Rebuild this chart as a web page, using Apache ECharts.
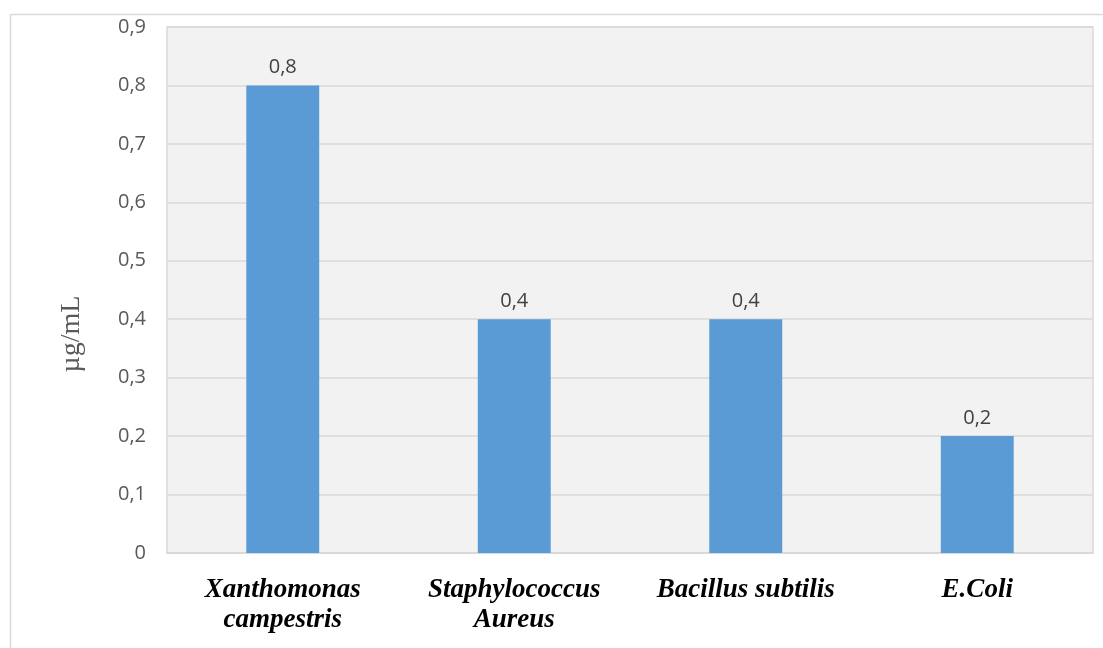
<!DOCTYPE html>
<html>
<head>
<meta charset="utf-8">
<script src="https://cdn.jsdelivr.net/npm/echarts@6/dist/echarts.min.js"></script>
<style>
  html, body { margin: 0; padding: 0; background: #fff; }
  #chart { width: 1103px; height: 648px; }
</style>
</head>
<body>
<div id="chart"></div>
<script>
// 数据
const categories = ["Xanthomonas\ncampestris", "Staphylococcus\nAureus", "Bacillus subtilis", "E.Coli"];
const values = [0.8, 0.4, 0.4, 0.2];
const yMin = 0;
const yMax = 0.9;
const yStep = 0.1;

// 逗号作小数点
function comma(v) {
  if (v === 0) return "0";
  return v.toFixed(1).replace(".", ",");
}

const chart = echarts.init(document.getElementById("chart"));
chart.setOption({
  animation: false,
  graphic: [
    {
      type: "rect",
      shape: { x: 10.5, y: 14.5, width: 1100, height: 640 },
      style: { fill: "none", stroke: "#d9d9d9", lineWidth: 1.5 },
      silent: true
    },
    {
      type: "text",
      x: 72,
      y: 334,
      rotation: Math.PI / 2,
      style: {
        text: "µg/mL",
        font: "28px 'Liberation Serif'",
        fill: "#595959",
        align: "center",
        verticalAlign: "middle"
      }
    }
  ],
  grid: {
    left: 167,
    right: 10,
    top: 27,
    bottom: 95,
    show: true,
    backgroundColor: "#f2f2f2",
    borderColor: "#d9d9d9",
    borderWidth: 1.5
  },
  xAxis: {
    type: "category",
    data: categories,
    axisLine: { lineStyle: { color: "#d9d9d9", width: 1.5 } },
    axisTick: { length: 12, lineStyle: { color: "#d9d9d9", width: 1.5 } },
    axisLabel: {
      interval: 0,
      margin: 22,
      color: "#000",
      fontFamily: "Liberation Serif",
      fontStyle: "italic",
      fontWeight: "bold",
      fontSize: 27,
      lineHeight: 30,
      verticalAlign: "top"
    }
  },
  yAxis: {
    type: "value",
    min: yMin,
    max: yMax,
    interval: yStep,
    axisLine: { show: false },
    axisTick: { show: false },
    splitLine: { lineStyle: { color: "#d9d9d9", width: 1.5 } },
    axisLabel: {
      margin: 21,
      color: "#595959",
      fontFamily: "Open Sans",
      fontSize: 20,
      formatter: comma
    }
  },
  series: [
    {
      type: "bar",
      data: values,
      barWidth: "31.5%",
      itemStyle: { color: "#5b9bd5" },
      label: {
        show: true,
        position: "top",
        distance: 8,
        color: "#404040",
        fontFamily: "Open Sans",
        fontSize: 20,
        formatter: function (p) { return comma(p.value); }
      }
    }
  ]
});
</script>
</body>
</html>
